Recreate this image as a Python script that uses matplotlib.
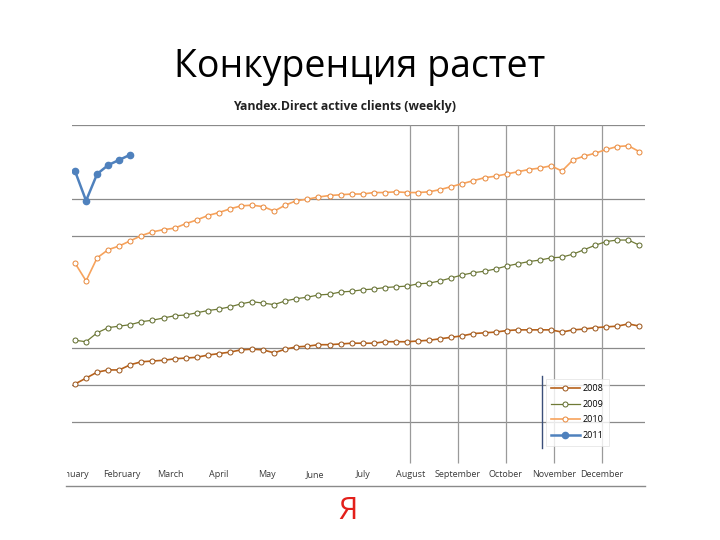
import matplotlib.pyplot as plt
from matplotlib.lines import Line2D
from matplotlib.patches import Rectangle

plt.rcParams['font.family'] = ['Open Sans', 'DejaVu Sans']

# weekly values (arbitrary units)
weeks = list(range(1, 53))

clients_2008 = [10.1, 10.9, 11.7, 12.0, 12.0, 12.7, 13.1, 13.2, 13.3, 13.5,
                13.6, 13.7, 14.0, 14.2, 14.4, 14.7, 14.8, 14.7, 14.3, 14.8,
                15.1, 15.2, 15.4, 15.4, 15.5, 15.6, 15.6, 15.6, 15.8, 15.8,
                15.8, 15.9, 16.0, 16.2, 16.4, 16.6, 16.9, 17.0, 17.1, 17.3,
                17.4, 17.4, 17.4, 17.4, 17.1, 17.4, 17.5, 17.7, 17.8, 17.9,
                18.2, 17.9]

clients_2009 = [16.0, 15.8, 17.0, 17.7, 17.9, 18.1, 18.5, 18.7, 19.0, 19.3,
                19.4, 19.7, 20.0, 20.2, 20.5, 20.9, 21.2, 21.0, 20.8, 21.3,
                21.6, 21.8, 22.1, 22.2, 22.5, 22.6, 22.8, 22.9, 23.1, 23.2,
                23.3, 23.6, 23.7, 24.0, 24.4, 24.8, 25.1, 25.3, 25.6, 26.0,
                26.3, 26.6, 26.8, 27.1, 27.2, 27.6, 28.2, 28.8, 29.3, 29.5,
                29.5, 28.8]

clients_2010 = [26.4, 24.0, 27.1, 28.2, 28.7, 29.4, 30.1, 30.6, 30.9, 31.1,
                31.7, 32.2, 32.8, 33.2, 33.7, 34.1, 34.2, 34.0, 33.4, 34.2,
                34.8, 35.0, 35.3, 35.5, 35.6, 35.7, 35.7, 35.9, 35.9, 36.0,
                35.9, 35.9, 36.0, 36.3, 36.7, 37.1, 37.5, 37.9, 38.1, 38.4,
                38.7, 39.0, 39.2, 39.5, 38.8, 40.3, 40.8, 41.2, 41.7, 42.1,
                42.2, 41.4]

clients_2011 = [38.8, 34.8, 38.4, 39.6, 40.3, 41.0]

months = ['January', 'February', 'March', 'April', 'May', 'June', 'July',
          'August', 'September', 'October', 'November', 'December']
month_weeks = [0.9, 5.25, 9.6, 13.95, 18.3, 22.65, 27.0, 31.3, 35.6, 39.9, 44.3, 48.6]
hgrid = [5, 10, 15, 30, 35, 45]

fig = plt.figure(figsize=(7.2, 5.4), dpi=100)
fig.text(0.5, 0.875, 'Конкуренция растет', ha='center', va='center',
         fontsize=27, color='black')
fig.text(0.478, 0.802, 'Yandex.Direct active clients (weekly)', ha='center',
         va='center', fontsize=8.8, fontweight='bold', color='#222222')

ax = fig.add_axes([72 / 720, 81 / 540, 573 / 720, 334 / 540])
ax.set_xlim(0.73, 52.5)
ax.set_ylim(0, 45)
for s in ax.spines.values():
    s.set_visible(False)
ax.set_yticks([])
ax.set_xticks(month_weeks)
ax.set_xticklabels(months, fontsize=6.5, color='#3a3a3a')
ax.tick_params(axis='x', length=0, pad=8)

for v in hgrid:
    ax.axhline(v, color='#8a8a8a', lw=0.9, zorder=1)
ax.vlines(month_weeks[7:], -0.5, 45, color='#9a9a9a', lw=0.9, zorder=1, clip_on=False)

mk = dict(marker='o', markersize=3.6, markerfacecolor='white', markeredgewidth=0.7)
ax.plot(weeks, clients_2008, color='#b8621b', lw=1.2, markeredgecolor='#9a5216',
        label='2008', zorder=3, **mk)
ax.plot(weeks, clients_2009, color='#6f7a35', lw=0.9, markeredgecolor='#5e6a2a',
        label='2009', zorder=3, **mk)
ax.plot(weeks, clients_2010, color='#f7a35c', lw=1.2, markeredgecolor='#e8873a',
        label='2010', zorder=3, **mk)
ax.plot(weeks[:len(clients_2011)], clients_2011, color='#4f81bd', lw=1.8,
        marker='o', markersize=4.5, markerfacecolor='#4f81bd',
        markeredgecolor='#4f81bd', label='2011', zorder=4)

leg = fig.legend(loc='upper left', bbox_to_anchor=(541 / 720, 1 - 374 / 540),
                 fontsize=6.5, frameon=True, fancybox=False, handlelength=3.2,
                 labelspacing=0.75, borderpad=0.6, handletextpad=0.3)
leg.get_frame().set_edgecolor('#e0e0e0')
leg.get_frame().set_linewidth(0.6)

fig.add_artist(Line2D([542 / 720, 542 / 720], [1 - 376 / 540, 1 - 448 / 540],
                      color='#3b4f7a', lw=1.0))
fig.add_artist(Line2D([66 / 720, 645 / 720], [1 - 486 / 540, 1 - 486 / 540],
                      color='#8a8a8a', lw=1.0))
# the source screenshot is cropped at its left edge, cutting "January"
fig.add_artist(Rectangle((0, 1 - 485 / 540), 67 / 720, 25 / 540,
                         transform=fig.transFigure, facecolor='white',
                         edgecolor='none', zorder=10))

fig.text(348 / 720, 1 - 511 / 540, 'Я', ha='center', va='center',
         fontsize=22, color='#e3201b')

fig.savefig('out.png', dpi=100)
